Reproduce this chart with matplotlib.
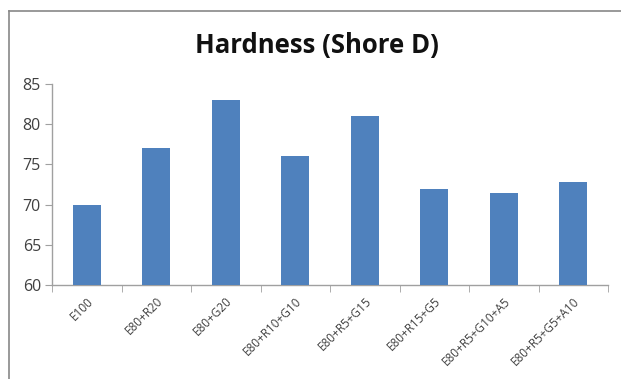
import matplotlib
matplotlib.use("Agg")
import matplotlib.pyplot as plt
from matplotlib.lines import Line2D

categories = ["E100", "E80+R20", "E80+G20", "E80+R10+G10", "E80+R5+G15",
              "E80+R15+G5", "E80+R5+G10+A5", "E80+R5+G5+A10"]
values = [70, 77, 83, 76, 81, 72, 71.5, 72.8]
yticks = [60, 65, 70, 75, 80, 85]

plt.rcParams['font.family'] = ['Open Sans', 'DejaVu Sans']

fig = plt.figure(figsize=(6.21, 3.79), dpi=100)
W, H = 621, 379
ax = fig.add_axes([52 / W, 1 - 285 / H, (608 - 52) / W, (285 - 84) / H])

x = list(range(len(categories)))
ax.bar(x, values, width=0.41, color="#4F81BD", zorder=3)
ax.set_xlim(-0.5, len(categories) - 0.5)
ax.set_ylim(60, 85)
ax.set_yticks(yticks)
ax.set_yticklabels([str(v) for v in yticks], fontsize=11.5, color="#404040")
ax.set_xticks(x)
ax.set_xticklabels(categories, rotation=45, ha="right", rotation_mode="anchor",
                   fontsize=8.5, color="#404040")
ax.tick_params(axis="x", length=0, pad=7)
ax.set_xticks([i + 0.5 for i in range(-1, len(categories))], minor=True)
ax.tick_params(axis="x", which="minor", length=5, color="#A0A0A0", direction="out")
ax.tick_params(axis="y", length=5, color="#A0A0A0", direction="out", pad=3)

for s in ["top", "right"]:
    ax.spines[s].set_visible(False)
for s in ["left", "bottom"]:
    ax.spines[s].set_color("#A0A0A0")
    ax.spines[s].set_linewidth(1)

fig.text(317 / W, 1 - 45 / H, "Hardness (Shore D)", ha="center", va="center",
         fontsize=18.5, fontweight="bold", color="#111111")

# outer chart border (top and left visible)
fig.add_artist(Line2D([9 / W, 1], [1 - 11 / H, 1 - 11 / H], color="#888888", lw=1.2,
                      transform=fig.transFigure))
fig.add_artist(Line2D([9 / W, 9 / W], [0, 1 - 11 / H], color="#888888", lw=1.2,
                      transform=fig.transFigure))

fig.savefig("out.png", dpi=100)
